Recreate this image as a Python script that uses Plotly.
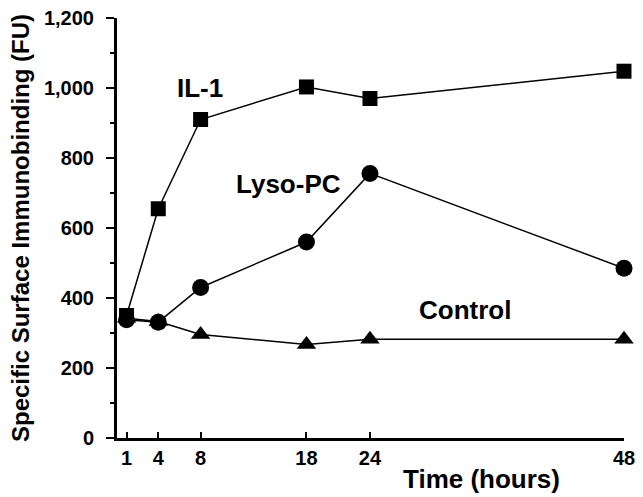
import plotly.graph_objects as go

hours = [1, 4, 8, 18, 24, 48]
il1 = [350, 655, 910, 1003, 970, 1048]
lyso_pc = [338, 331, 430, 560, 756, 485]
control = [342, 333, 296, 267, 282, 282]

x_ticks = [1, 4, 8, 18, 24, 48]
y_ticks = [0, 200, 400, 600, 800, 1000, 1200]
y_tick_labels = ["0", "200", "400", "600", "800", "1,000", "1,200"]

FONT = "Liberation Sans, Arial, Helvetica, sans-serif"

def bold(s):
    return "<b>" + s + "</b>"

fig = go.Figure()
series = [
    ("Control", control, "triangle-up", 17),
    ("Lyso-PC", lyso_pc, "circle", 17),
    ("IL-1", il1, "square", 15),
]
for name, vals, sym, size in series:
    fig.add_trace(go.Scatter(
        x=hours, y=vals, mode="lines+markers", name=name,
        line=dict(color="black", width=1.5),
        marker=dict(symbol=sym, size=size, color="black"),
        showlegend=False, cliponaxis=False,
    ))

# page has an 8px body margin; the figure is sized so the plot area lands where the reference has it
fig.update_layout(
    width=635, height=489,
    margin=dict(l=109, r=19, t=10, b=59, autoexpand=False),
    paper_bgcolor="white", plot_bgcolor="white",
    font=dict(family=FONT, color="black", size=20),
)
fig.update_xaxes(
    range=[0.1, 48], tickvals=x_ticks, ticktext=[bold(str(t)) for t in x_ticks],
    showgrid=False, zeroline=False, showline=True, linecolor="black", linewidth=3,
    ticks="inside", ticklen=6, tickwidth=1.5, tickcolor="black",
    ticklabeloverflow="allow", automargin=False,
    tickfont=dict(family=FONT, size=20, color="black"),
)
fig.update_yaxes(
    range=[0, 1200], tickvals=y_ticks, ticktext=[bold(t) for t in y_tick_labels],
    showgrid=False, zeroline=False, showline=True, linecolor="black", linewidth=3,
    ticks="outside", ticklen=8, tickwidth=2, tickcolor="black",
    ticklabelstandoff=8, ticklabeloverflow="allow", automargin=False,
    minor=dict(dtick=100, ticks="outside", ticklen=4, tickwidth=2, tickcolor="black"),
    tickfont=dict(family=FONT, size=20, color="black"),
)

fig.add_annotation(text=bold("Specific Surface Immunobinding (FU)"), textangle=-90,
                   xref="paper", yref="paper", x=0, y=0.5, xshift=-97,
                   xanchor="center", yanchor="middle", showarrow=False,
                   font=dict(family=FONT, size=24, color="black"))
fig.add_annotation(text=bold("Time (hours)"), xref="x", yref="paper", x=34.5, y=0,
                   yshift=-41, xanchor="center", yanchor="middle", showarrow=False,
                   font=dict(family=FONT, size=26, color="black"))
fig.add_annotation(text=bold("IL-1"), xref="x", yref="y", x=7.9, y=1000, showarrow=False,
                   font=dict(family=FONT, size=26, color="black"))
fig.add_annotation(text=bold("Lyso-PC"), xref="x", yref="y", x=16.3, y=727, showarrow=False,
                   font=dict(family=FONT, size=26, color="black"))
fig.add_annotation(text=bold("Control"), xref="x", yref="y", x=33.0, y=366, showarrow=False,
                   font=dict(family=FONT, size=26, color="black"))

fig.write_html("out.html")
